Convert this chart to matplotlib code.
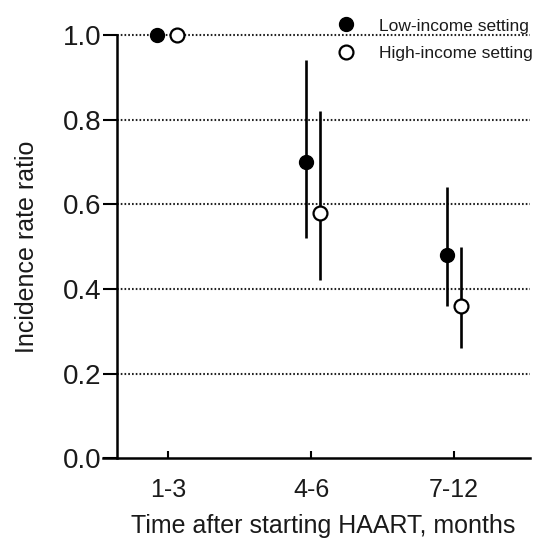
import matplotlib
matplotlib.use("Agg")
import matplotlib.pyplot as plt
from matplotlib.lines import Line2D
import numpy as np

plt.rcParams["font.family"] = ["Liberation Sans", "DejaVu Sans"]

periods = ["1-3", "4-6", "7-12"]
low_irr = [1.0, 0.70, 0.48]
low_lo = [1.0, 0.52, 0.36]
low_hi = [1.0, 0.94, 0.64]
high_irr = [1.0, 0.58, 0.36]
high_lo = [1.0, 0.42, 0.26]
high_hi = [1.0, 0.82, 0.50]
yticks = [0.0, 0.2, 0.4, 0.6, 0.8, 1.0]

x = np.arange(len(periods))
off_low = np.array([-0.08, -0.04, -0.05])
off_high = np.array([0.06, 0.06, 0.05])

text_col = "#1a1a1a"

fig = plt.figure(figsize=(5.39, 5.39), dpi=100)
ax = fig.add_axes([0.217, 0.150, 0.766, 0.785])

# dotted reference lines at every tick above zero
for yv in yticks[1:]:
    ax.axhline(yv, color="#222222", linestyle=(0, (0.8, 1.0)), linewidth=1.5,
               zorder=1, clip_on=False)

low = np.array(low_irr)
high = np.array(high_irr)
ax.errorbar(x + off_low, low,
            yerr=[low - np.array(low_lo), np.array(low_hi) - low],
            fmt="o", color="black", markersize=10, elinewidth=1.9, capsize=0,
            markerfacecolor="black", markeredgecolor="black", zorder=3,
            clip_on=False)
ax.errorbar(x + off_high, high,
            yerr=[high - np.array(high_lo), np.array(high_hi) - high],
            fmt="o", color="black", markersize=10, elinewidth=1.9, capsize=0,
            markerfacecolor="white", markeredgecolor="black", markeredgewidth=1.6,
            zorder=3, clip_on=False)

ax.set_xlim(-0.36, 2.53)
ax.set_ylim(0, 1.0)
ax.set_xticks(x)
ax.set_xticklabels(periods)
ax.set_yticks(yticks)
ax.set_yticklabels([f"{v:.1f}" for v in yticks])

ax.spines["top"].set_visible(False)
ax.spines["right"].set_visible(False)
ax.spines["left"].set_linewidth(1.8)
ax.spines["bottom"].set_linewidth(1.8)
ax.spines["bottom"].set_bounds(-0.46, 2.53)
ax.tick_params(axis="y", direction="out", length=10, width=1.5, labelsize=20,
               pad=1, labelcolor=text_col)
ax.tick_params(axis="x", direction="in", length=5, width=1.5, labelsize=18,
               pad=14, labelcolor=text_col)

ax.set_xlabel("Time after starting HAART, months", fontsize=18, labelpad=9,
              color=text_col)
ax.set_ylabel("Incidence rate ratio", fontsize=18, labelpad=17, color=text_col)

handles = [
    Line2D([], [], linestyle="none", marker="o", markersize=10,
           markerfacecolor="black", markeredgecolor="black"),
    Line2D([], [], linestyle="none", marker="o", markersize=10,
           markerfacecolor="white", markeredgecolor="black", markeredgewidth=1.6),
]
ax.legend(handles, ["Low-income setting", "High-income setting"],
          loc="upper right", bbox_to_anchor=(1.037, 1.068), frameon=False,
          fontsize=12.5, handletextpad=0.9, labelspacing=0.72, borderpad=0.2,
          labelcolor=text_col)

fig.savefig("out.png", dpi=100)
